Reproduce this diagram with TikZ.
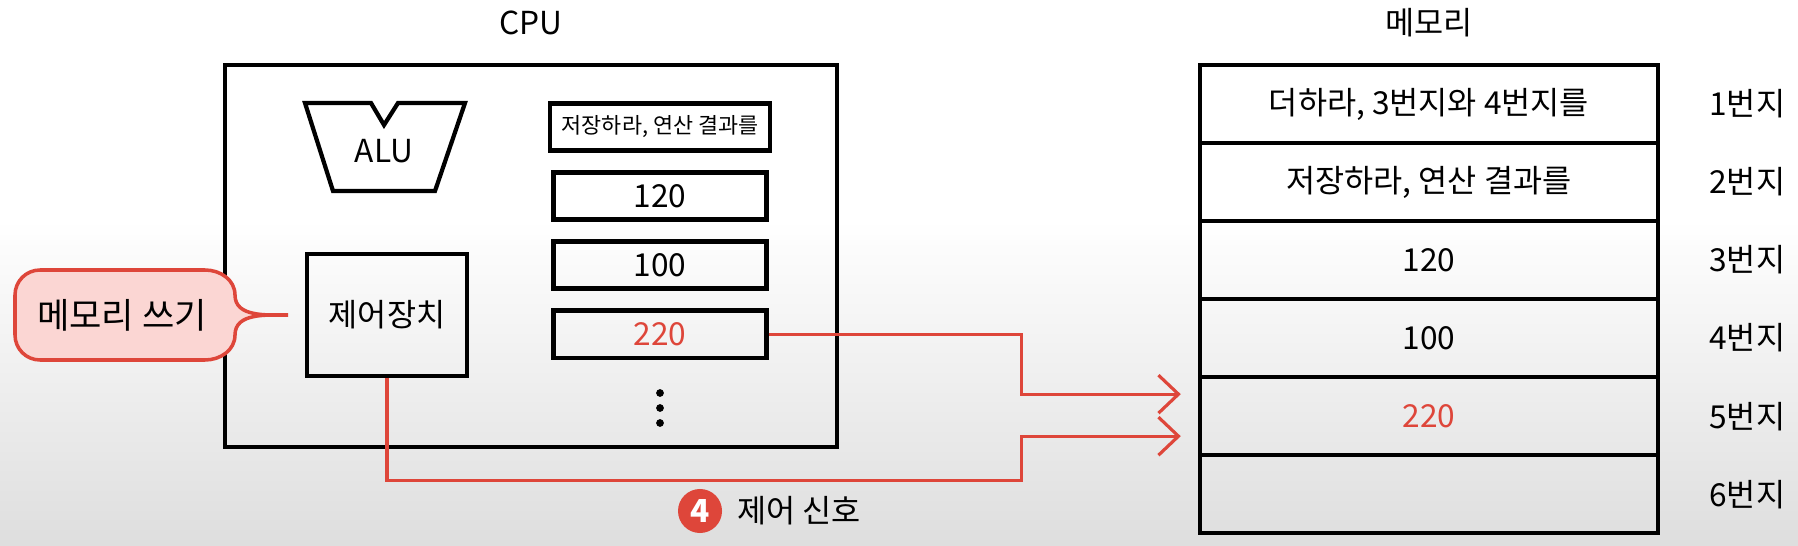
\documentclass[tikz,border=0pt]{standalone}
\usepackage{fontspec}
\setmainfont{Noto Sans CJK KR}
\usetikzlibrary{arrows.meta, positioning}
\definecolor{sigred}{RGB}{222,70,58}
\definecolor{pinkfill}{RGB}{251,214,211}
\tikzstyle{line} = [draw, sigred, line width=0.9pt, -{Straight Barb[length=0.2cm, width=0.38cm]}]
\tikzstyle{heading} = [font=\fontsize{9}{10}\selectfont]
\tikzstyle{box} = [rectangle, draw, line width=1.2pt]
\tikzstyle{reg} = [rectangle, draw, line width=1.2pt, minimum width=2.13cm, minimum height=0.47cm, text centered, node distance=0.69cm, font=\fontsize{9}{10}\selectfont]
\tikzstyle{memcell} = [rectangle, draw, line width=1.2pt, minimum width=4.58cm, minimum height=0.78cm, text centered, node distance=0.78cm, font=\fontsize{9}{10}\selectfont]
\tikzstyle{addr} = [node distance=3.18cm, font=\fontsize{9}{10}\selectfont]
\tikzstyle{ctrlbox} = [rectangle, draw, line width=1.2pt, minimum width=1.6cm, minimum height=1.22cm, font=\fontsize{9}{10}\selectfont]
\tikzstyle{stepnum} = [circle, fill=sigred, text=white, minimum size=0.44cm, inner sep=0pt, font=\bfseries\fontsize{9}{10}\selectfont]
\tikzstyle{bubble} = [draw=sigred, fill=pinkfill, line width=1pt]

\begin{document}
\begin{tikzpicture}[x=0.01cm, y=-0.01cm]
\useasboundingbox (0,0) rectangle (1798,546);
\fill [white] (0,0) rectangle (1798,220);
\shade [top color=white, bottom color=black!13] (0,220) rectangle (1798,546);

\node [box, minimum width=6.12cm, minimum height=3.82cm] (cpu) at (531,256) {};
\node [heading, above of=cpu, node distance=2.33cm] (cpu_title) {CPU};

\draw [line width=1.2pt] (305,103) -- (371,103) -- (384,125) -- (398,103) -- (465,103) -- (435,191) -- (333,191) -- cycle;
\node [heading] (alu) at (384,151) {ALU};

\node [ctrlbox] (ctrl) at (387,315) {제어장치};

\node [reg, font=\fontsize{6.2}{8}\selectfont] (reg1) at (660,127) {저장하라, 연산 결과를};
\node [reg, below of=reg1] (reg2) {120};
\node [reg, below of=reg2] (reg3) {100};
\node [reg, below of=reg3, text=sigred] (reg4) {220};
\foreach \y in {393,408,423}
  \fill (660,\y) circle (1.1pt);

\draw [bubble] (40,270) -- (205,270) to[out=0,in=90] (235,295) to[out=-90,in=180] (288,315)
  to[out=180,in=90] (235,335) to[out=-90,in=0] (205,360) -- (40,360)
  to[out=180,in=-90] (15,335) -- (15,295) to[out=90,in=180] (40,270) -- cycle;
\node [heading, font=\fontsize{10}{12}\selectfont] (write_msg) at (122,315) {메모리 쓰기};

\node [memcell] (m1) at (1429,104) {더하라, 3번지와 4번지를};
\node [memcell, below of=m1] (m2) {저장하라, 연산 결과를};
\node [memcell, below of=m2] (m3) {120};
\node [memcell, below of=m3] (m4) {100};
\node [memcell, below of=m4, text=sigred] (m5) {220};
\node [memcell, below of=m5] (m6) {};
\node [heading, above of=m1, node distance=0.81cm] (mem_title) {메모리};

\node [addr, right of=m1] (a1) {1번지};
\node [addr, right of=m2] (a2) {2번지};
\node [addr, right of=m3] (a3) {3번지};
\node [addr, right of=m4] (a4) {4번지};
\node [addr, right of=m5] (a5) {5번지};
\node [addr, right of=m6] (a6) {6번지};

\coordinate (in_a) at ([xshift=-0.17cm, yshift=0.22cm]m5.west);
\coordinate (in_b) at ([xshift=-0.17cm, yshift=-0.2cm]m5.west);
\path [line] (reg4.east) -| ([xshift=-1.59cm]in_a) -- (in_a);
\path [line] (ctrl.south) |- ([xshift=-1.59cm, yshift=-0.44cm]in_b) |- (in_b);

\node [stepnum] (num4) at (700,511) {4};
\node [heading, right of=num4, node distance=0.99cm] (sig_label) {제어 신호};

\end{tikzpicture}
\end{document}
